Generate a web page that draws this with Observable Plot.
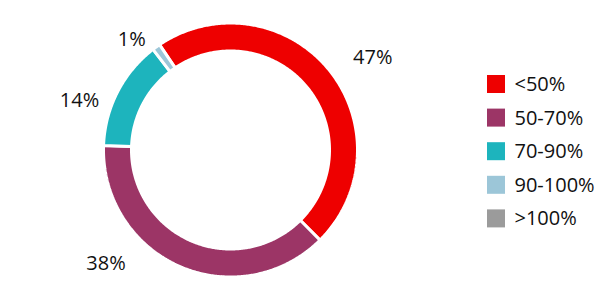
<!DOCTYPE html>
<html>
<head>
<meta charset="utf-8">
<script src="https://cdn.jsdelivr.net/npm/d3@7"></script>
<script src="https://cdn.jsdelivr.net/npm/@observablehq/plot@0.6"></script>
<style>
  html, body { margin: 0; padding: 0; background: #fff; }
  #chart { width: 600px; height: 300px; }
</style>
</head>
<body>
<div id="chart"></div>
<script>
const categories = ["<50%", "50-70%", "70-90%", "90-100%", ">100%"];
const values = [47, 38, 14, 1, 0];
const labels = ["47%", "38%", "14%", "1%", ""];
const colors = ["#ee0000", "#9c3566", "#1db4bd", "#9cc6d8", "#9b9b9b"];

// layout
const W = 600, H = 300;
const cx = 230, cy = 149.5, rOuter = 127, rInner = 99;
const start = -34 * Math.PI / 180;
const deg = Math.PI / 180;
// label placement relative to each slice's mid-angle: [angle shift (deg), radius]
const labelPlacement = [[6.5, 169.5], [24, 168.5], [-9.2, 158.8], [-6, 148], [0, 160]];
const pt = (a, r) => [cx + r * Math.sin(a), cy - r * Math.cos(a)];

const arcs = d3.pie().sort(null).startAngle(start).endAngle(start + 2 * Math.PI)(values)
  .map((a, i) => ({...a, cat: categories[i], label: labels[i], place: labelPlacement[i]}));

const ringPts = [];
for (const a of arcs) {
  if (a.value <= 0) continue;
  const n = Math.max(4, Math.ceil((a.endAngle - a.startAngle) / 0.01));
  const pts = [];
  for (let k = 0; k <= n; k++) pts.push(pt(a.startAngle + (a.endAngle - a.startAngle) * k / n, rOuter));
  for (let k = n; k >= 0; k--) pts.push(pt(a.startAngle + (a.endAngle - a.startAngle) * k / n, rInner));
  pts.push(pts[0]);
  for (const [x, y] of pts) ringPts.push({cat: a.cat, x, y});
}

const labelPts = arcs.filter(a => a.value > 0 && a.label).map(a => {
  const m = (a.startAngle + a.endAngle) / 2 + a.place[0] * deg;
  const [x, y] = pt(m, a.place[1]);
  return {label: a.label, x, y};
});

const legendRows = categories.map((c, i) => ({cat: c, y: 84 + i * 33.6}));

const chart = Plot.plot({
  width: W, height: H,
  margin: 0,
  x: {domain: [0, W], range: [0, W], axis: null},
  y: {domain: [0, H], range: [0, H], axis: null},
  color: {domain: categories, range: colors},
  style: {fontFamily: "'Open Sans', sans-serif", background: "#fff"},
  marks: [
    Plot.line(ringPts, {x: "x", y: "y", z: "cat", fill: "cat", stroke: "white", strokeWidth: 3, strokeLinejoin: "miter", curve: "linear"}),
    Plot.text(labelPts, {x: "x", y: "y", text: "label", fontSize: 20, fill: "#111", textAnchor: "middle", lineAnchor: "middle"}),
    Plot.rect(legendRows, {x1: 487, x2: 505, y1: d => d.y - 9, y2: d => d.y + 9, fill: "cat"}),
    Plot.text(legendRows, {x: 514, y: "y", text: "cat", fontSize: 20, fill: "#111", textAnchor: "start", lineAnchor: "middle"})
  ]
});
document.getElementById("chart").appendChild(chart);
</script>
</body>
</html>
